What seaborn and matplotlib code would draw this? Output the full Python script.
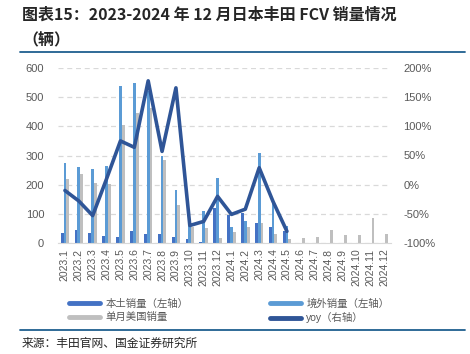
import numpy as np
import pandas as pd
import matplotlib
matplotlib.use("Agg")
import matplotlib.pyplot as plt
from matplotlib.lines import Line2D
import seaborn as sns

# 数据（从图中读取，单位：辆）
months = ['2023.1', '2023.2', '2023.3', '2023.4', '2023.5', '2023.6', '2023.7', '2023.8',
          '2023.9', '2023.10', '2023.11', '2023.12', '2024.1', '2024.2', '2024.3', '2024.4',
          '2024.5', '2024.6', '2024.7', '2024.8', '2024.9', '2024.10', '2024.11', '2024.12']
domestic = [34, 45, 34, 23, 19, 40, 31, 31, 19, 15, 5, 121, 96, 102, 67, 56, 42]
overseas = [274, 260, 255, 263, 537, 550, 520, 300, 181, 60, 110, 222, 56, 75, 307, 136, 59]
us_sales = [220, 235, 205, 202, 406, 446, 462, 285, 131, 56, 53, 18, 39, 56, 67, 31, 14,
            18, 22, 44, 27, 27, 85, 31]
yoy = [-10, -28, -53, 10, 75, 64, 178, 57, 166, -70, -63, -20, -51, -42, 29, -29, -80]  # %

names = ['本土销量（左轴）', '境外销量（左轴）', '单月美国销量']
colors = ['#4472c4', '#5b9bd5', '#bfbfbf']
line_color = '#2f5597'
tick_color = '#595959'

sns.set_style("white")
plt.rcParams['font.family'] = ['Liberation Sans', 'Noto Sans CJK SC']

n = len(months)
def pad(v):
    return v + [np.nan] * (n - len(v))

df = pd.DataFrame({'month': months, names[0]: pad(domestic),
                   names[1]: pad(overseas), names[2]: us_sales})
long_df = df.melt(id_vars='month', var_name='series', value_name='sales').dropna()

fig = plt.figure(figsize=(4.7, 3.54), dpi=100)
ax = fig.add_axes([58 / 470, 1 - 243 / 354, 333 / 470, 175 / 354])

sns.barplot(data=long_df, x='month', y='sales', hue='series', order=months,
            hue_order=names, palette=colors, width=0.62, saturation=1,
            errorbar=None, linewidth=0, legend=False, ax=ax)

ax2 = ax.twinx()
sns.lineplot(x=np.arange(len(yoy)), y=yoy, color=line_color, lw=2.6, ax=ax2)

ax.set_xlim(-0.5, n - 0.5)
ax.set_ylim(0, 600)
ax.set_yticks(range(0, 700, 100))
ax2.set_ylim(-100, 200)
ax2.set_yticks(range(-100, 250, 50))
ax2.set_yticklabels([f'{v}%' for v in range(-100, 250, 50)])

ax.set_axisbelow(True)
ax.yaxis.grid(True, ls=(0, (4, 3)), color='#d9d9d9', lw=0.9)
ax.set_xlabel('')
ax.set_ylabel('')
for s in ['top', 'left', 'right']:
    ax.spines[s].set_visible(False)
ax.spines['bottom'].set_color('#d9d9d9')
for s in ax2.spines.values():
    s.set_visible(False)

ax.tick_params(axis='y', length=0, pad=10, labelsize=8, labelcolor=tick_color)
ax.tick_params(axis='x', length=0, pad=4, labelsize=7.5, labelcolor=tick_color, rotation=90)
ax2.tick_params(axis='y', length=0, pad=9, labelsize=8, labelcolor=tick_color)

# 图例
handles = [Line2D([], [], color=colors[0], lw=3.5),
           Line2D([], [], color=colors[2], lw=3.5),
           Line2D([], [], color=colors[1], lw=3.5),
           Line2D([], [], color=line_color, lw=3.5, solid_capstyle='round')]
labels = [names[0], names[2], names[1], 'yoy（右轴）']
fig.legend(handles, labels, loc='upper left', bbox_to_anchor=(64 / 470, 1 - 293 / 354),
           ncol=2, frameon=False, fontsize=7.5, handlelength=3, handletextpad=0.5,
           columnspacing=7.8, labelspacing=0.35, labelcolor=tick_color, borderpad=0)

# 标题和来源
fig.text(22 / 470, 1 - 15 / 354, '图表15：2023-2024 年 12 月日本丰田 FCV 销量情况',
         fontsize=11.5, fontweight='bold', style='italic', va='center',
         family=['Noto Sans CJK SC', 'DejaVu Sans'])
fig.text(22 / 470, 1 - 40 / 354, '（辆）', fontsize=11.5, fontweight='bold',
         va='center', family=['Noto Sans CJK SC', 'DejaVu Sans'])
fig.add_artist(Line2D([20 / 470, 465 / 470], [1 - 52 / 354, 1 - 52 / 354],
                      color='#1f5f8f', lw=1.3))
fig.add_artist(Line2D([20 / 470, 465 / 470], [1 - 330 / 354, 1 - 330 / 354],
                      color='#1f5f8f', lw=1.3))
fig.text(22 / 470, 1 - 343 / 354, '来源：丰田官网、国金证券研究所', fontsize=8.5,
         va='center', family=['Noto Sans CJK SC', 'DejaVu Sans'])

fig.savefig('out.png', dpi=100)
